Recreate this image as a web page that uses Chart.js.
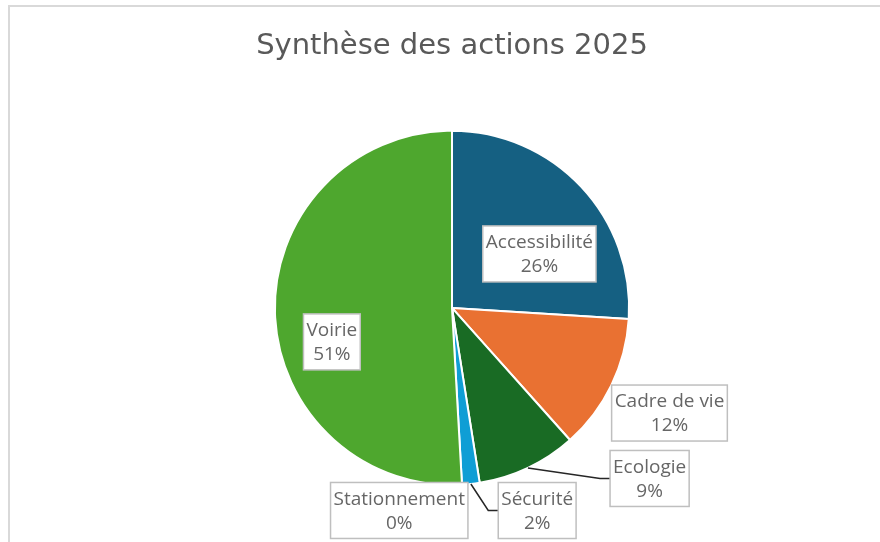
<!DOCTYPE html>
<html lang="fr">
<head>
<meta charset="utf-8">
<title>Synthèse des actions 2025</title>
<script src="https://cdn.jsdelivr.net/npm/chart.js@4"></script>
<style>
    html, body { margin: 0; padding: 0; background: #fff; overflow: hidden; }
    #wrap { position: relative; width: 880px; height: 542px; }
    #frame {
        position: absolute; left: 8px; top: 5px; width: 900px; height: 560px;
        border-top: 2px solid #d9d9d9; border-left: 2px solid #d9d9d9;
    }
    canvas { position: absolute; left: 0; top: 0; }
</style>
</head>
<body>
<div id="wrap">
    <div id="frame"></div>
    <canvas id="chart" width="880" height="542"></canvas>
</div>
<script>
// 데이터: 항목별 비중 (%)
const categories = ["Accessibilité", "Cadre de vie", "Ecologie", "Sécurité", "Stationnement", "Voirie"];
const values = [26.0, 12.4, 9.1, 1.6, 0, 50.9];

// 슬라이스 색 (Office 테마)
const sliceColors = ["#156082", "#E97132", "#196B24", "#0F9ED5", "#A02B93", "#4EA72E"];

// 데이터 레이블 (박스 + 지시선)
const calloutLabels = {
    id: "calloutLabels",
    afterDatasetsDraw(chart, args, opts) {
        const ctx = chart.ctx;
        const meta = chart.getDatasetMeta(0);
        const data = chart.data.datasets[0].data;
        const total = data.reduce((a, b) => a + b, 0);
        ctx.save();
        ctx.font = opts.font;
        meta.data.forEach((arc, i) => {
            const p = opts.placement[i];
            const {x, y, outerRadius, startAngle, endAngle} = arc.getProps(["x", "y", "outerRadius", "startAngle", "endAngle"], true);
            const a = p.angle * Math.PI / 180 - Math.PI / 2; // 위쪽 기준 시계방향
            const cx = x + Math.cos(a) * outerRadius * p.dist;
            const cy = y + Math.sin(a) * outerRadius * p.dist;
            const lines = [chart.data.labels[i], Math.round(data[i] / total * 100) + "%"];
            const w = Math.max(...lines.map(t => ctx.measureText(t).width)) + 6;
            const h = opts.lineHeight * 2 + 8;
            const left = cx - w / 2, top = cy - h / 2;

            if (p.leader) {
                const mid = (startAngle + endAngle) / 2;
                ctx.beginPath();
                ctx.moveTo(x + Math.cos(mid) * outerRadius, y + Math.sin(mid) * outerRadius);
                ctx.lineTo(left - 10, cy);
                ctx.lineTo(left, cy);
                ctx.strokeStyle = "#262626";
                ctx.lineWidth = 1.5;
                ctx.stroke();
            }

            ctx.fillStyle = "#fff";
            ctx.fillRect(left, top, w, h);
            ctx.strokeStyle = "#bfbfbf";
            ctx.lineWidth = 1.5;
            ctx.strokeRect(left, top, w, h);

            ctx.fillStyle = "#666666";
            ctx.textAlign = "center";
            ctx.textBaseline = "middle";
            ctx.fillText(lines[0], cx, cy - opts.lineHeight / 2 + 1);
            ctx.fillText(lines[1], cx, cy + opts.lineHeight / 2 + 1);
        });
        ctx.restore();
    }
};

new Chart(document.querySelector("#chart"), {
    type: "pie",
    data: {
        labels: categories,
        datasets: [{
            data: values,
            backgroundColor: sliceColors,
            borderColor: "#ffffff",
            borderWidth: 2,
        }],
    },
    options: {
        responsive: false,
        animation: false,
        devicePixelRatio: 1,
        layout: {padding: {left: 24, right: 0, top: 0, bottom: 56}},
        plugins: {
            legend: {display: false},
            tooltip: {enabled: false},
            title: {
                display: true,
                text: "Synthèse des actions 2025",
                color: "#595959",
                font: {family: "'DejaVu Sans', sans-serif", size: 29, weight: "normal"},
                padding: {top: 29, bottom: 66},
            },
            calloutLabels: {
                font: "19px 'Open Sans', sans-serif",
                lineHeight: 24,
                placement: [
                    {angle: 58.3, dist: 0.58},
                    {angle: 115.8, dist: 1.364},
                    {angle: 130.8, dist: 1.474, leader: true},
                    {angle: 157.2, dist: 1.241, leader: true},
                    {angle: 194.6, dist: 1.182},
                    {angle: 254.2, dist: 0.705},
                ],
            },
        },
    },
    plugins: [calloutLabels],
});
</script>
</body>
</html>
